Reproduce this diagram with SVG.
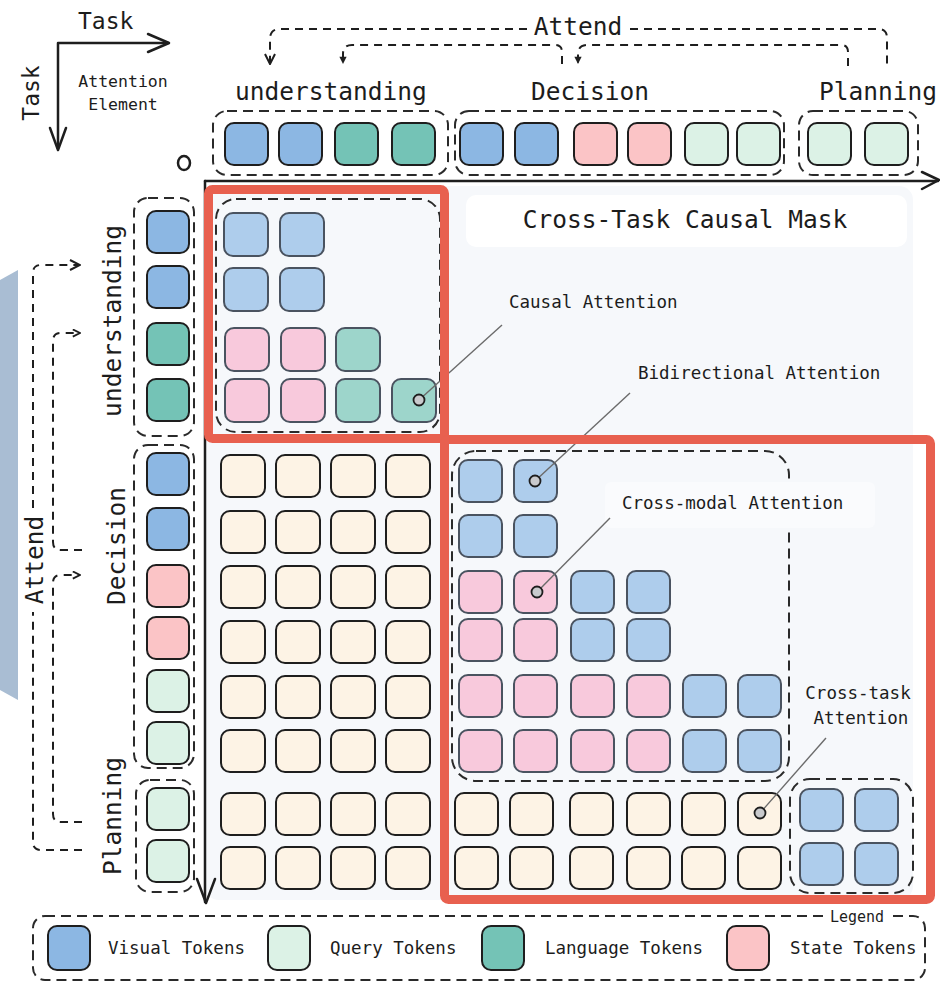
<svg xmlns="http://www.w3.org/2000/svg" width="940" height="983" viewBox="0 0 940 983">
<defs>
<style>
text{font-family:"DejaVu Sans Mono","Liberation Mono",monospace;fill:#1c1c1c}
.big{font-size:24.5px}
.mid{font-size:17.5px}
.sm{font-size:15px}
.tk{stroke:#1e1e1e;stroke-width:2}
.mk{stroke:#4a5360;stroke-width:2}
.vb{fill:#8cb7e3}.ln{fill:#74c3b6}.st{fill:#fbc4c6}.qr{fill:#dcf2e6}
.mb{fill:#aecdec}.mp{fill:#f8c9dc}.mt{fill:#9dd5cb}.pe{fill:#fdf3e5}
.grp{fill:none;stroke:#2a2a2a;stroke-width:2;stroke-dasharray:10 6}
.att{fill:none;stroke:#1e1e1e;stroke-width:2;stroke-dasharray:8 6}
.axis{fill:none;stroke:#1e1e1e;stroke-width:2.5;stroke-linecap:round;stroke-linejoin:round}
.lead{stroke:#6b6b6b;stroke-width:1.4}
.dot{fill:#c9cacd;stroke:#1e1e1e;stroke-width:1.8}
.red{fill:none;stroke:#e8604f;stroke-width:9}
</style>
<marker id="arr" viewBox="0 0 12 12" refX="11" refY="6" markerWidth="12" markerHeight="12" markerUnits="userSpaceOnUse" orient="auto">
<path d="M1 1 L11 6 L1 11" fill="none" stroke="#1e1e1e" stroke-width="2"/>
</marker>
<marker id="arrm" viewBox="0 0 10 10" refX="9" refY="5" markerWidth="9" markerHeight="9" markerUnits="userSpaceOnUse" orient="auto">
<path d="M1 1 L9 5 L1 9" fill="none" stroke="#1e1e1e" stroke-width="2"/>
</marker>
<marker id="arrs" viewBox="0 0 10 10" refX="9" refY="5" markerWidth="9" markerHeight="9" markerUnits="userSpaceOnUse" orient="auto">
<path d="M1 1 L9 5 L1 9 Z" fill="#1e1e1e"/>
</marker>
</defs>
<rect width="940" height="983" fill="#ffffff"/>

<!-- left decorative shape -->
<path d="M0 280 L18 270 L18 700 L0 690 Z" fill="#a9bdd3"/>

<!-- corner legend -->
<g id="corner">
<text class="big" x="78" y="29" style="font-size:23px">Task</text>
<text class="big" transform="translate(39 93) rotate(-90)" text-anchor="middle" style="font-size:23px">Task</text>
<text class="mid" x="123" y="87" text-anchor="middle" style="font-size:16.5px">Attention</text>
<text class="mid" x="123" y="110" text-anchor="middle" style="font-size:16.5px">Element</text>
<path class="axis" d="M58 148 V43 H168"/>
<path class="axis" d="M148 34 L169 43 L148 52"/>
<path class="axis" d="M50 128 L58 150 L66 128"/>
<ellipse cx="184" cy="163" rx="6" ry="7" fill="none" stroke="#1e1e1e" stroke-width="2.5"/>
</g>

<!-- panel -->
<rect x="205" y="186" width="708" height="714" rx="14" fill="#f6f8fb"/>
<g id="title">
<rect x="466" y="195" width="441" height="52" rx="10" fill="#ffffff"/>
<text class="big" x="685" y="228" text-anchor="middle">Cross-Task Causal Mask</text>
</g>

<!-- header tokens -->
<g id="top-understanding">
<text class="big" x="331" y="100" text-anchor="middle">understanding</text>
<rect class="grp" x="213" y="111" width="235" height="64" rx="14"/>
<rect class="tk vb" x="225" y="123" width="43" height="42" rx="9"/>
<rect class="tk vb" x="279" y="123" width="43" height="42" rx="9"/>
<rect class="tk ln" x="335" y="123" width="43" height="42" rx="9"/>
<rect class="tk ln" x="392" y="123" width="43" height="42" rx="9"/>
</g>
<g id="top-decision">
<text class="big" x="590" y="100" text-anchor="middle">Decision</text>
<rect class="grp" x="455" y="111" width="329" height="64" rx="14"/>
<rect class="tk vb" x="460" y="123" width="43" height="42" rx="9"/>
<rect class="tk vb" x="515" y="123" width="43" height="42" rx="9"/>
<rect class="tk st" x="574" y="123" width="43" height="42" rx="9"/>
<rect class="tk st" x="628" y="123" width="43" height="42" rx="9"/>
<rect class="tk qr" x="685" y="123" width="43" height="42" rx="9"/>
<rect class="tk qr" x="737" y="123" width="43" height="42" rx="9"/>
</g>
<g id="top-planning">
<text class="big" x="878" y="100" text-anchor="middle">Planning</text>
<rect class="grp" x="799" y="111" width="119" height="64" rx="14"/>
<rect class="tk qr" x="808" y="123" width="43" height="42" rx="9"/>
<rect class="tk qr" x="865" y="123" width="43" height="42" rx="9"/>
</g>

<!-- left tokens -->
<g id="left-understanding">
<text class="big" transform="translate(121 321) rotate(-90)" text-anchor="middle">understanding</text>
<rect class="grp" x="134" y="198" width="60" height="238" rx="14"/>
<rect class="tk vb" x="147" y="211" width="42" height="42" rx="9"/>
<rect class="tk vb" x="147" y="266" width="42" height="42" rx="9"/>
<rect class="tk ln" x="147" y="323" width="42" height="42" rx="9"/>
<rect class="tk ln" x="147" y="379" width="42" height="42" rx="9"/>
</g>
<g id="left-decision">
<text class="big" transform="translate(125 546) rotate(-90)" text-anchor="middle">Decision</text>
<rect class="grp" x="134" y="445" width="60" height="323" rx="14"/>
<rect class="tk vb" x="147" y="453" width="42" height="42" rx="9"/>
<rect class="tk vb" x="147" y="508" width="42" height="42" rx="9"/>
<rect class="tk st" x="147" y="565" width="42" height="42" rx="9"/>
<rect class="tk st" x="147" y="617" width="42" height="42" rx="9"/>
<rect class="tk qr" x="147" y="670" width="42" height="42" rx="9"/>
<rect class="tk qr" x="147" y="722" width="42" height="42" rx="9"/>
</g>
<g id="left-planning">
<text class="big" transform="translate(121 816) rotate(-90)" text-anchor="middle">Planning</text>
<rect class="grp" x="136" y="780" width="58" height="112" rx="14"/>
<rect class="tk qr" x="147" y="788" width="42" height="42" rx="9"/>
<rect class="tk qr" x="147" y="840" width="42" height="42" rx="9"/>
</g>

<!-- connectors -->
<g id="connectors">
<path class="att" d="M527 29 H280 Q270 29 270 39 V64" marker-end="url(#arr)"/>
<path class="att" d="M630 29 H878 Q887 29 887 38 V68"/>
<text class="big" x="578" y="35" text-anchor="middle">Attend</text>
<path class="att" d="M562 64 V52 Q562 45 555 45 H352 Q343 45 343 54 V64" marker-end="url(#arrs)"/>
<path class="att" d="M848 66 V52 Q848 45 841 45 H588 Q578 45 578 54 V64" marker-end="url(#arrs)"/>
<path class="att" d="M82 850 H41 Q33 850 33 842 V612"/>
<path class="att" d="M33 508 V273 Q33 265 41 265 H80" marker-end="url(#arr)"/>
<text class="big" transform="translate(43 560) rotate(-90)" text-anchor="middle">Attend</text>
<path class="att" d="M82 550 H61 Q53 550 53 542 V341 Q53 333 61 333 H80" marker-end="url(#arrm)"/>
<path class="att" d="M82 822 H61 Q53 822 53 814 V583 Q53 575 61 575 H80" marker-end="url(#arrm)"/>
</g>

<!-- matrix: causal block -->
<g id="causal-block">
<rect class="grp" x="216" y="199" width="224" height="233" rx="20"/>
<rect class="mk mb" x="224" y="213" width="44" height="43" rx="9"/>
<rect class="mk mb" x="280" y="213" width="44" height="43" rx="9"/>
<rect class="mk mb" x="224" y="268" width="44" height="43" rx="9"/>
<rect class="mk mb" x="280" y="268" width="44" height="43" rx="9"/>
<rect class="mk mp" x="225" y="328" width="44" height="43" rx="9"/>
<rect class="mk mp" x="281" y="328" width="44" height="43" rx="9"/>
<rect class="mk mt" x="336" y="328" width="44" height="43" rx="9"/>
<rect class="mk mp" x="225" y="379" width="44" height="43" rx="9"/>
<rect class="mk mp" x="281" y="379" width="44" height="43" rx="9"/>
<rect class="mk mt" x="336" y="379" width="44" height="43" rx="9"/>
<rect class="mk mt" x="392" y="379" width="44" height="43" rx="9"/>
</g>

<!-- lower-left peach -->
<g id="cross-left" class="tk pe">
<rect x="221" y="455" width="44" height="42" rx="9"/><rect x="276" y="455" width="44" height="42" rx="9"/><rect x="331" y="455" width="44" height="42" rx="9"/><rect x="386" y="455" width="44" height="42" rx="9"/>
<rect x="221" y="511" width="44" height="42" rx="9"/><rect x="276" y="511" width="44" height="42" rx="9"/><rect x="331" y="511" width="44" height="42" rx="9"/><rect x="386" y="511" width="44" height="42" rx="9"/>
<rect x="221" y="566" width="44" height="42" rx="9"/><rect x="276" y="566" width="44" height="42" rx="9"/><rect x="331" y="566" width="44" height="42" rx="9"/><rect x="386" y="566" width="44" height="42" rx="9"/>
<rect x="221" y="621" width="44" height="42" rx="9"/><rect x="276" y="621" width="44" height="42" rx="9"/><rect x="331" y="621" width="44" height="42" rx="9"/><rect x="386" y="621" width="44" height="42" rx="9"/>
<rect x="221" y="676" width="44" height="42" rx="9"/><rect x="276" y="676" width="44" height="42" rx="9"/><rect x="331" y="676" width="44" height="42" rx="9"/><rect x="386" y="676" width="44" height="42" rx="9"/>
<rect x="221" y="730" width="44" height="42" rx="9"/><rect x="276" y="730" width="44" height="42" rx="9"/><rect x="331" y="730" width="44" height="42" rx="9"/><rect x="386" y="730" width="44" height="42" rx="9"/>
<rect x="221" y="793" width="44" height="42" rx="9"/><rect x="276" y="793" width="44" height="42" rx="9"/><rect x="331" y="793" width="44" height="42" rx="9"/><rect x="386" y="793" width="44" height="42" rx="9"/>
<rect x="221" y="847" width="44" height="42" rx="9"/><rect x="276" y="847" width="44" height="42" rx="9"/><rect x="331" y="847" width="44" height="42" rx="9"/><rect x="386" y="847" width="44" height="42" rx="9"/>
</g>

<!-- decision block -->
<g id="decision-block">
<rect class="grp" x="452" y="451" width="337" height="330" rx="24"/>
<rect x="605" y="482" width="270" height="46" rx="6" fill="#fafbfd"/>
<rect class="mk mb" x="459" y="460" width="43" height="42" rx="9"/><rect class="mk mb" x="514" y="460" width="43" height="42" rx="9"/>
<rect class="mk mb" x="459" y="515" width="43" height="42" rx="9"/><rect class="mk mb" x="514" y="515" width="43" height="42" rx="9"/>
<rect class="mk mp" x="459" y="571" width="43" height="42" rx="9"/><rect class="mk mp" x="514" y="571" width="43" height="42" rx="9"/><rect class="mk mb" x="571" y="571" width="43" height="42" rx="9"/><rect class="mk mb" x="627" y="571" width="43" height="42" rx="9"/>
<rect class="mk mp" x="459" y="619" width="43" height="42" rx="9"/><rect class="mk mp" x="514" y="619" width="43" height="42" rx="9"/><rect class="mk mb" x="571" y="619" width="43" height="42" rx="9"/><rect class="mk mb" x="627" y="619" width="43" height="42" rx="9"/>
<rect class="mk mp" x="459" y="675" width="43" height="42" rx="9"/><rect class="mk mp" x="514" y="675" width="43" height="42" rx="9"/><rect class="mk mp" x="571" y="675" width="43" height="42" rx="9"/><rect class="mk mp" x="627" y="675" width="43" height="42" rx="9"/><rect class="mk mb" x="683" y="675" width="43" height="42" rx="9"/><rect class="mk mb" x="738" y="675" width="43" height="42" rx="9"/>
<rect class="mk mp" x="459" y="730" width="43" height="42" rx="9"/><rect class="mk mp" x="514" y="730" width="43" height="42" rx="9"/><rect class="mk mp" x="571" y="730" width="43" height="42" rx="9"/><rect class="mk mp" x="627" y="730" width="43" height="42" rx="9"/><rect class="mk mb" x="683" y="730" width="43" height="42" rx="9"/><rect class="mk mb" x="738" y="730" width="43" height="42" rx="9"/>
</g>

<!-- planning rows -->
<g id="cross-right" class="tk pe">
<rect x="455" y="793" width="43" height="42" rx="9"/><rect x="510" y="793" width="43" height="42" rx="9"/><rect x="570" y="793" width="43" height="42" rx="9"/><rect x="627" y="793" width="43" height="42" rx="9"/><rect x="682" y="793" width="43" height="42" rx="9"/><rect x="738" y="793" width="43" height="42" rx="9"/>
<rect x="455" y="847" width="43" height="42" rx="9"/><rect x="510" y="847" width="43" height="42" rx="9"/><rect x="570" y="847" width="43" height="42" rx="9"/><rect x="627" y="847" width="43" height="42" rx="9"/><rect x="682" y="847" width="43" height="42" rx="9"/><rect x="738" y="847" width="43" height="42" rx="9"/>
</g>
<g id="planning-block">
<rect class="grp" x="790" y="779" width="123" height="114" rx="20"/>
<rect class="mk mb" x="800" y="789" width="43" height="42" rx="9"/><rect class="mk mb" x="855" y="789" width="43" height="42" rx="9"/>
<rect class="mk mb" x="800" y="843" width="43" height="42" rx="9"/><rect class="mk mb" x="855" y="843" width="43" height="42" rx="9"/>
</g>

<!-- axes -->
<g id="axes">
<path class="axis" d="M205 181 H938"/>
<path class="axis" d="M922 172 L939 180 L922 189"/>
<path class="axis" d="M205 181 V902"/>
<path class="axis" d="M197 879 L206 903 L215 879"/>
</g>

<!-- annotations -->
<g id="annotations">
<line class="lead" x1="419" y1="400" x2="502" y2="325"/>
<line class="lead" x1="535" y1="481" x2="630" y2="393"/>
<line class="lead" x1="537" y1="592" x2="610" y2="518"/>
<line class="lead" x1="760" y1="813" x2="826" y2="738"/>
<text class="mid" x="509" y="308">Causal Attention</text>
<text class="mid" x="638" y="379">Bidirectional Attention</text>
<text class="mid" x="622" y="509">Cross-modal Attention</text>
<text class="mid" x="858" y="699" text-anchor="middle">Cross-task</text>
<text class="mid" x="861" y="724" text-anchor="middle">Attention</text>
</g>

<!-- highlight boxes -->
<rect class="red" x="208.5" y="189.5" width="236" height="249" rx="4"/>
<rect class="red" x="444.5" y="439.5" width="486" height="460" rx="4"/>

<g id="dots">
<circle class="dot" cx="419" cy="400" r="5.5"/>
<circle class="dot" cx="535" cy="481" r="5.5"/>
<circle class="dot" cx="537" cy="592" r="5.5"/>
<circle class="dot" cx="760" cy="813" r="5.5"/>
</g>

<!-- legend -->
<g id="legend">
<rect class="grp" x="33" y="916" width="892" height="64" rx="12"/>
<rect x="826" y="906" width="62" height="20" fill="#ffffff"/>
<text class="sm" x="857" y="922" text-anchor="middle">Legend</text>
<rect class="tk vb" x="48" y="926" width="42" height="44" rx="9"/>
<text class="mid" x="108" y="954">Visual Tokens</text>
<rect class="tk qr" x="268" y="926" width="42" height="44" rx="9"/>
<text class="mid" x="330" y="954">Query Tokens</text>
<rect class="tk ln" x="482" y="926" width="42" height="44" rx="9"/>
<text class="mid" x="545" y="954">Language Tokens</text>
<rect class="tk st" x="727" y="926" width="42" height="44" rx="9"/>
<text class="mid" x="790" y="954">State Tokens</text>
</g>
</svg>
